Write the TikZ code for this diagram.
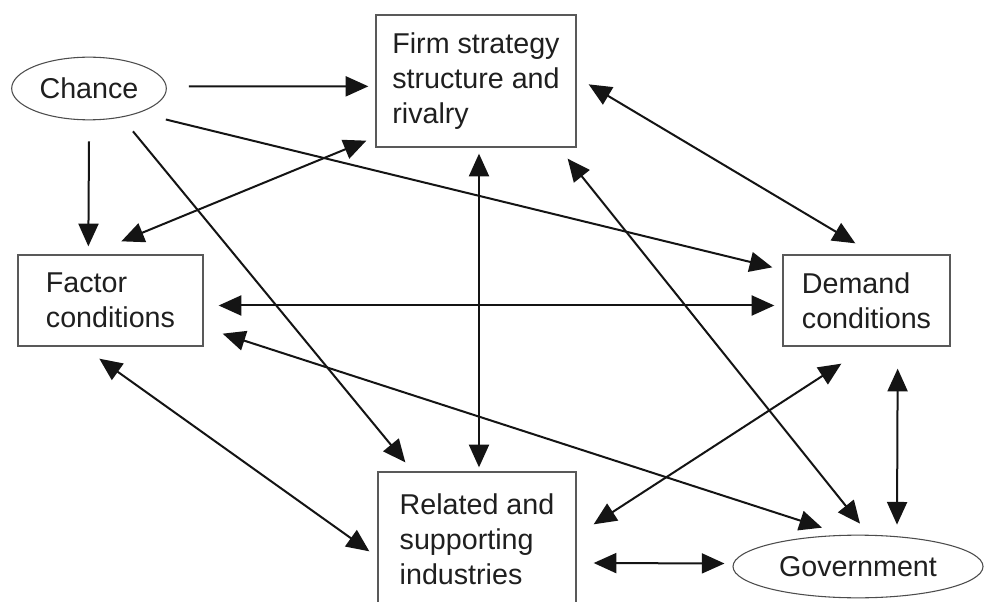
\documentclass[tikz,border=0pt]{standalone}
\usepackage{fontspec}
\setmainfont{Liberation Sans}
\usetikzlibrary{arrows.meta,shapes.geometric}
\begin{document}
\begin{tikzpicture}[x=0.75pt,y=-0.75pt,
  lbl/.style={font=\fontsize{21.5}{26.3}\selectfont, text=black!88, align=left},
  boxnode/.style={lbl, draw=black!65, line width=1pt, rectangle, inner sep=0pt},
  ellnode/.style={lbl, draw=black!70, line width=0.8pt, ellipse, inner sep=0pt},
  tip/.style={line width=1.5pt, draw=black!92, -{Triangle[length=17pt,width=15pt]}},
  dtip/.style={line width=1.5pt, draw=black!92, {Triangle[length=17pt,width=15pt]}-{Triangle[length=17pt,width=15pt]}}]
\useasboundingbox (0,0) rectangle (985,602);
\begin{scope}
\clip (0,0) rectangle (985,602);
\fill[white] (0,0) rectangle (985,602);
% nodes
\node[ellnode, minimum width=116pt, minimum height=47pt] (chance) at (89,88.5) {Chance};
\node[boxnode, minimum width=150pt, minimum height=99pt] (firm) at (476,81) {Firm strategy\\structure and\\rivalry};
\node[boxnode, minimum width=138.75pt, minimum height=68.25pt] (factor) at (110.5,300.5) {Factor\\conditions};
\node[boxnode, minimum width=125.25pt, minimum height=68.25pt] (demand) at (866.5,300.5) {Demand\\conditions};
\node[boxnode, minimum width=148.5pt, minimum height=100.5pt] (related) at (477,539) {Related and\\supporting\\industries};
\node[ellnode, minimum width=187.5pt, minimum height=47pt] (gov) at (858,566.5) {Government};
% single arrows from chance
\draw[tip] ([shift={(22,-2)}]chance.east) -- ([shift={(-7,72)}]firm.north west);
\draw[tip] ([shift={(0,21)}]chance.south) -- ([shift={(71,-8)}]factor.north west);
\draw[tip] ([shift={(44,11)}]chance.south) -- ([shift={(28,-9)}]related.north west);
\draw[tip] ([shift={(-1,31)}]chance.east) -- ([shift={(-10,13)}]demand.north west);
% double arrows
\draw[dtip] ([shift={(-9,-7)}]firm.south west) -- ([shift={(104,-13)}]factor.north west);
\draw[dtip] ([shift={(3,6)}]firm.south) -- ([shift={(2,-4)}]related.north);
\draw[dtip] ([shift={(12,70)}]firm.north east) -- ([shift={(73,-11)}]demand.north west);
\draw[dtip] ([shift={(-9,11)}]firm.south east) -- ([shift={(2,-11)}]gov.north);
\draw[dtip] ([shift={(15,5)}]factor.east) -- ([shift={(-8,5)}]demand.west);
\draw[dtip] ([shift={(19,-13)}]factor.south east) -- ([shift={(-36,-7)}]gov.north);
\draw[dtip] ([shift={(82,12)}]factor.south west) -- ([shift={(-8,80)}]related.north west);
\draw[dtip] ([shift={(59,17)}]demand.south west) -- ([shift={(17,53)}]related.north east);
\draw[dtip] ([shift={(-53,22)}]demand.south east) -- ([shift={(39,-10)}]gov.north);
\draw[dtip] ([shift={(17,24)}]related.east) -- ([shift={(-8,-3)}]gov.west);
\end{scope}
\end{tikzpicture}
\end{document}
